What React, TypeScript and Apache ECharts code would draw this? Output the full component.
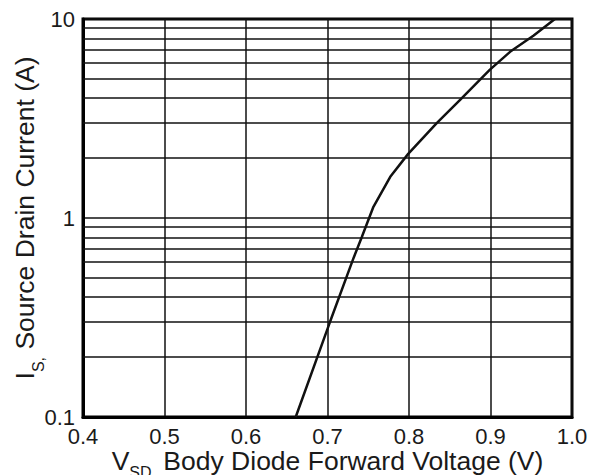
import React, { useEffect, useRef } from "react";
import * as echarts from "echarts";

const vsd = [0.661, 0.703, 0.732, 0.742, 0.756, 0.777, 0.799, 0.834, 0.863, 0.899, 0.924, 0.953, 0.979];
const isd = [0.1, 0.3, 0.63, 0.8, 1.13, 1.61, 2.1, 3.0, 3.93, 5.55, 6.84, 8.27, 10];
const minorGrid = [0.2, 0.3, 0.4, 0.5, 0.6, 0.7, 0.8, 0.9, 2, 3, 4, 5, 6, 7, 8, 9];
const xMin = 0.4;
const xMax = 1.0;
const yMin = 0.1;
const yMax = 10;

const FONT = "'Liberation Sans', Arial, sans-serif";
const TXT = "#1a1a1a";

export default function App() {
  const ref = useRef<HTMLDivElement>(null);
  useEffect(() => {
    if (!ref.current) return;
    const chart = echarts.init(ref.current, undefined, { renderer: "svg" });
    const richY = {
      m: { fontSize: 26.5, lineHeight: 26, verticalAlign: "top", fontFamily: FONT, color: TXT },
      s: { fontSize: 16, lineHeight: 16, padding: [19, 0, 0, 0], verticalAlign: "top", fontFamily: FONT, color: TXT },
    };
    const richX = {
      m: { fontSize: 26.5, lineHeight: 22, verticalAlign: "top", fontFamily: FONT, color: TXT },
      s: { fontSize: 16, lineHeight: 16, padding: [17, 0, 0, 0], verticalAlign: "top", fontFamily: FONT, color: TXT },
    };
    chart.setOption({
      animation: false,
      grid: {
        left: 83,
        right: 28,
        top: 19,
        bottom: 58,
        containLabel: false,
        outerBoundsMode: "none",
        show: true,
        borderColor: "#000",
        borderWidth: 3,
        backgroundColor: "#fff",
      },
      xAxis: {
        type: "value",
        min: xMin,
        max: xMax,
        interval: 0.1,
        axisLine: { show: true, lineStyle: { color: "#000", width: 3 } },
        axisTick: { show: false },
        splitLine: { show: true, lineStyle: { color: "#111", width: 1.5 } },
        axisLabel: {
          margin: 11,
          fontSize: 22,
          lineHeight: 16,
          fontFamily: FONT,
          color: TXT,
          formatter: (v: number) => v.toFixed(1),
        },
        name: "{m|V}{s|SD,}{m| Body Diode Forward Voltage (V)}",
        nameLocation: "middle",
        nameGap: 30,
        nameMoveOverlap: false,
        nameTextStyle: { rich: richX },
      },
      yAxis: {
        type: "log",
        logBase: 10,
        min: yMin,
        max: yMax,
        axisLine: { show: true, lineStyle: { color: "#000", width: 3 } },
        axisTick: { show: false },
        splitLine: { show: true, lineStyle: { color: "#111", width: 1.5 } },
        axisLabel: {
          margin: 8,
          fontSize: 22,
          lineHeight: 16,
          fontFamily: FONT,
          color: TXT,
          formatter: (v: number) => (v < 1 ? String(Number(v.toFixed(1))) : String(Math.round(v))),
        },
        name: "{m|I}{s|S,}{m| Source Drain Current (A)}",
        nameLocation: "middle",
        nameGap: 46,
        nameMoveOverlap: false,
        nameTextStyle: { rich: richY },
      },
      series: [
        {
          type: "line",
          data: vsd.map((v, i) => [v, isd[i]]),
          showSymbol: false,
          smooth: false,
          lineStyle: { color: "#111", width: 2.5 },
          z: 5,
          markLine: {
            silent: true,
            symbol: ["none", "none"],
            label: { show: false },
            lineStyle: { color: "#111", width: 1.5, type: "solid" },
            data: minorGrid.map((v) => ({ yAxis: v })),
          },
        },
      ],
    });
    return () => chart.dispose();
  }, []);
  return (
    <div
      ref={ref}
      style={{ position: "absolute", left: 0, top: 0, width: 600, height: 475, background: "#fff" }}
    />
  );
}
